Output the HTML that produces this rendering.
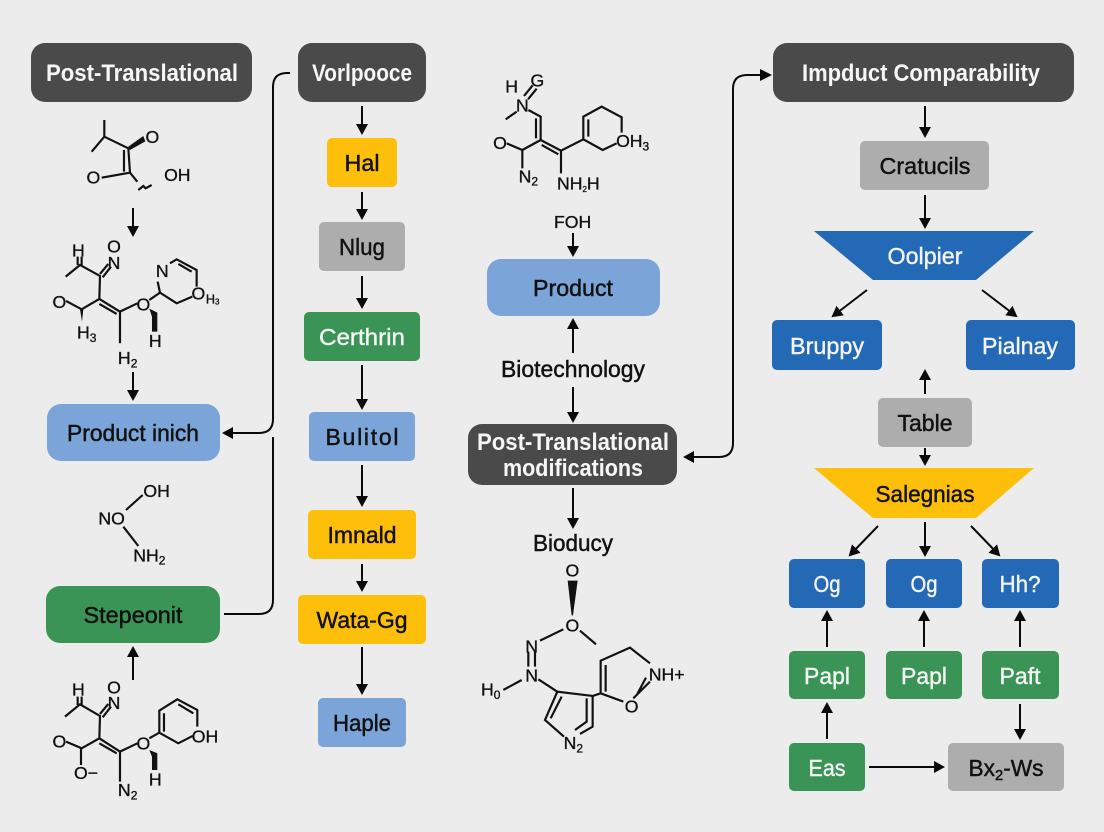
<!DOCTYPE html>
<html>
<head>
<meta charset="utf-8">
<style>
html,body{margin:0;padding:0;background:#ececec}
svg{display:block}
text{font-family:"Liberation Sans",sans-serif}
.l{font-size:23px;text-anchor:middle;fill:#111;stroke:#111;stroke-width:.45px}
.w{font-size:23px;text-anchor:middle;fill:#f4f4f4;stroke:#f4f4f4;stroke-width:.4px}
.h{font-size:24px;text-anchor:middle;fill:#f6f6f6;font-weight:bold}
.a{fill:none;stroke:#0a0a0a;stroke-width:2}
.m path.b{fill:none;stroke:#111;stroke-width:6.5}
.m path.f{fill:#111;stroke:none}
.m text{font-size:53px;fill:#111;text-anchor:middle;stroke:#111;stroke-width:1px}
.m tspan.s{font-size:36px}
</style>
</head>
<body>
<svg width="1104" height="832" viewBox="0 0 1104 832" xmlns="http://www.w3.org/2000/svg">
<defs>
<marker id="t" markerUnits="userSpaceOnUse" markerWidth="12" markerHeight="12" refX="9" refY="6" orient="auto"><path d="M0,0 L11,6 L0,12 z" fill="#0a0a0a"/></marker>
</defs>
<rect width="1104" height="832" fill="#ececec"/>

<!-- Boxes left and second column -->
<rect x="31" y="43" width="221" height="59" rx="14" fill="#4a4a4a"/>
<text class="h" x="142" y="81" textLength="192" lengthAdjust="spacingAndGlyphs">Post-Translational</text>
<rect x="298" y="43" width="128" height="59" rx="14" fill="#4a4a4a"/>
<text class="h" x="362" y="81" textLength="100" lengthAdjust="spacingAndGlyphs">Vorlpooce</text>
<rect x="47" y="404" width="173" height="57" rx="14" fill="#7ba4d8"/>
<text class="l" x="133" y="441" textLength="132" lengthAdjust="spacingAndGlyphs">Product inich</text>
<rect x="46" y="586" width="174" height="57" rx="14" fill="#3a9455"/>
<text class="l" x="133" y="623" textLength="99" lengthAdjust="spacingAndGlyphs">Stepeonit</text>

<rect x="327" y="138" width="70" height="49" rx="5" fill="#fdbf0a"/>
<text class="l" x="362" y="171" textLength="35" lengthAdjust="spacingAndGlyphs">Hal</text>
<rect x="319" y="222" width="86" height="49" rx="5" fill="#adadad"/>
<text class="l" x="362" y="255" textLength="46" lengthAdjust="spacingAndGlyphs">Nlug</text>
<rect x="304" y="312" width="116" height="49" rx="5" fill="#3a9455"/>
<text class="w" x="362" y="345" textLength="86" lengthAdjust="spacingAndGlyphs">Certhrin</text>
<rect x="309" y="412" width="106" height="49" rx="5" fill="#7ba4d8"/>
<text class="l" x="362" y="445" textLength="73" lengthAdjust="spacing">Bulitol</text>
<rect x="308" y="510" width="108" height="49" rx="5" fill="#fdbf0a"/>
<text class="l" x="362" y="543" textLength="69" lengthAdjust="spacingAndGlyphs">Imnald</text>
<rect x="298" y="595" width="128" height="49" rx="5" fill="#fdbf0a"/>
<text class="l" x="362" y="628" textLength="91" lengthAdjust="spacingAndGlyphs">Wata-Gg</text>
<rect x="318" y="698" width="88" height="49" rx="5" fill="#7ba4d8"/>
<text class="l" x="362" y="731" textLength="58" lengthAdjust="spacingAndGlyphs">Haple</text>

<!-- Center -->
<rect x="487" y="259" width="173" height="57" rx="14" fill="#7ba4d8"/>
<text class="l" x="573" y="296" textLength="80" lengthAdjust="spacingAndGlyphs">Product</text>
<text class="l" x="573" y="377" textLength="144" lengthAdjust="spacingAndGlyphs">Biotechnology</text>
<rect x="468" y="424" width="209" height="61" rx="14" fill="#4a4a4a"/>
<text class="h" x="573" y="450" textLength="192" lengthAdjust="spacingAndGlyphs">Post-Translational</text>
<text class="h" x="573" y="476" textLength="140" lengthAdjust="spacingAndGlyphs">modifications</text>
<text class="l" x="573" y="551" textLength="80" lengthAdjust="spacingAndGlyphs">Bioducy</text>

<!-- Right -->
<rect x="773" y="43" width="301" height="59" rx="14" fill="#4a4a4a"/>
<text class="h" x="921" y="81" textLength="238" lengthAdjust="spacingAndGlyphs">Impduct Comparability</text>
<rect x="860" y="141" width="129" height="49" rx="5" fill="#adadad"/>
<text class="l" x="925" y="174" textLength="91" lengthAdjust="spacingAndGlyphs">Cratucils</text>
<polygon points="814,231 1034,231 976,280 873,280" fill="#2369b5"/>
<text class="w" x="925" y="264" textLength="75" lengthAdjust="spacingAndGlyphs">Oolpier</text>
<rect x="772" y="320" width="110" height="50" rx="5" fill="#2369b5"/>
<text class="w" x="827" y="354" textLength="74" lengthAdjust="spacingAndGlyphs">Bruppy</text>
<rect x="966" y="320" width="109" height="50" rx="5" fill="#2369b5"/>
<text class="w" x="1020" y="354" textLength="76" lengthAdjust="spacingAndGlyphs">Pialnay</text>
<rect x="878" y="398" width="94" height="49" rx="5" fill="#adadad"/>
<text class="l" x="925" y="431" textLength="55" lengthAdjust="spacingAndGlyphs">Table</text>
<polygon points="814,468 1034,468 976,518 873,518" fill="#fdbf0a"/>
<text class="l" x="925" y="502" textLength="99" lengthAdjust="spacingAndGlyphs">Salegnias</text>
<rect x="789" y="559" width="76" height="49" rx="5" fill="#2369b5"/>
<text class="w" x="827" y="592" textLength="27" lengthAdjust="spacingAndGlyphs">Og</text>
<rect x="886" y="559" width="76" height="49" rx="5" fill="#2369b5"/>
<text class="w" x="924" y="592" textLength="27" lengthAdjust="spacingAndGlyphs">Og</text>
<rect x="982" y="559" width="77" height="49" rx="5" fill="#2369b5"/>
<text class="w" x="1020" y="592" textLength="41" lengthAdjust="spacingAndGlyphs">Hh?</text>
<rect x="789" y="651" width="76" height="48" rx="5" fill="#3a9455"/>
<text class="w" x="827" y="684" textLength="46" lengthAdjust="spacingAndGlyphs">Papl</text>
<rect x="886" y="651" width="76" height="48" rx="5" fill="#3a9455"/>
<text class="w" x="924" y="684" textLength="46" lengthAdjust="spacingAndGlyphs">Papl</text>
<rect x="982" y="651" width="77" height="48" rx="5" fill="#3a9455"/>
<text class="w" x="1020" y="684" textLength="41" lengthAdjust="spacingAndGlyphs">Paft</text>
<rect x="789" y="743" width="76" height="48" rx="5" fill="#3a9455"/>
<text class="w" x="827" y="776" textLength="37" lengthAdjust="spacingAndGlyphs">Eas</text>
<rect x="948" y="743" width="116" height="48" rx="5" fill="#adadad"/>
<text class="l" x="1006" y="776" textLength="75" lengthAdjust="spacingAndGlyphs">Bx<tspan font-size="15" dy="4">2</tspan><tspan dy="-4">-Ws</tspan></text>

<!-- Arrows -->
<g>
<path class="a" marker-end="url(#t)" d="M133,208V235"/>
<path class="a" marker-end="url(#t)" d="M133,372V399"/>
<path class="a" marker-end="url(#t)" d="M133,680V648"/>
<path class="a" marker-end="url(#t)" d="M362,106V133"/>
<path class="a" marker-end="url(#t)" d="M362,192V218"/>
<path class="a" marker-end="url(#t)" d="M362,276V307"/>
<path class="a" marker-end="url(#t)" d="M362,365V408"/>
<path class="a" marker-end="url(#t)" d="M362,465V505"/>
<path class="a" marker-end="url(#t)" d="M362,564V590"/>
<path class="a" marker-end="url(#t)" d="M362,647V693"/>
<path class="a" marker-end="url(#t)" d="M290,73H287Q273,73 273,87V419Q273,433 259,433H224"/>
<path class="a" d="M273,437V600Q273,614 259,614H224"/>
<path class="a" marker-end="url(#t)" d="M573,233V255"/>
<path class="a" marker-end="url(#t)" d="M573,353V320"/>
<path class="a" marker-end="url(#t)" d="M573,387V421"/>
<path class="a" marker-end="url(#t)" d="M573,488V527"/>
<path class="a" marker-end="url(#t)" d="M763,75H747Q733,75 733,89V443Q733,457 719,457H685"/>
<polygon points="760,69 772,75 760,81" fill="#0a0a0a"/>
<path class="a" marker-end="url(#t)" d="M925,106V136"/>
<path class="a" marker-end="url(#t)" d="M925,195V227"/>
<path class="a" marker-end="url(#t)" d="M867,290L833,316"/>
<path class="a" marker-end="url(#t)" d="M982,290L1016,316"/>
<path class="a" marker-end="url(#t)" d="M925,394V371"/>
<path class="a" marker-end="url(#t)" d="M925,448V464"/>
<path class="a" marker-end="url(#t)" d="M878,526L850,555"/>
<path class="a" marker-end="url(#t)" d="M925,522V555"/>
<path class="a" marker-end="url(#t)" d="M971,526L999,555"/>
<path class="a" marker-end="url(#t)" d="M827,647V612"/>
<path class="a" marker-end="url(#t)" d="M924,647V612"/>
<path class="a" marker-end="url(#t)" d="M1020,647V612"/>
<path class="a" marker-end="url(#t)" d="M827,739V704"/>
<path class="a" marker-end="url(#t)" d="M1020,704V738"/>
<path class="a" marker-end="url(#t)" d="M869,767H943"/>
</g>

<!-- Molecules 1, 2 -->
<g class="m" transform="translate(0,100) scale(.3333)">
<path class="b" d="M313,60V110M275,155L313,110L385,145L390,218M372,150L372,215M305,233L390,218L412,245M415,270L430,258L437,265L455,255"/>
<path class="f" d="M385,140L430,108L436,124L390,150z"/>
<text x="457" y="129">O</text><text x="280" y="251">O</text><text x="532" y="243">OH</text>
<path class="b" d="M233,470V495M245,470V495M197,530L240,495L300,528L298,597L245,628L198,603M300,522L325,492M308,532L333,500M298,597L360,635L360,730M298,612L350,642M360,635L412,610M448,600L480,578L473,545M510,490L530,478L590,510V560M535,492L575,515M480,578L530,610L577,590"/>
<path class="f" d="M240,628L250,628L246,665zM448,626L472,638V695H456V650z"/>
<text x="235" y="469">H</text><text x="342" y="458">O</text><text x="342" y="507">N</text><text x="178" y="624">O</text>
<text x="260" y="716">H<tspan class="s" dy="10">3</tspan></text>
<text x="430" y="631">O</text><text x="466" y="741">H</text><text x="487" y="531">N</text>
<text x="595" y="599">O</text><text x="638" y="610" style="font-size:38px">H<tspan class="s" style="font-size:24px" dy="4">3</tspan></text>
<text x="383" y="792">H<tspan class="s" dy="10">2</tspan></text>
</g>
<g class="m" transform="translate(0,460) scale(.3333)">
<path class="b" d="M378,150L428,105M370,200L415,258"/>
<text x="335" y="194">NO</text><text x="470" y="111">OH</text><text x="448" y="304">NH<tspan class="s" dy="10">2</tspan></text>
<path class="b" d="M233,710V735M245,710V735M195,770L240,733L300,768L298,835L245,865L198,845M300,762L325,732M308,772L333,740M243,865V915M298,835L360,875V965M298,850L350,880M360,875L412,850M448,835L478,818V752L532,718L592,750V800M492,815V760M535,733L580,760M478,818L535,850L578,828"/>
<path class="f" d="M448,870L472,880V930H456V890z"/>
<text x="235" y="707">H</text><text x="342" y="700">O</text><text x="342" y="747">N</text><text x="178" y="862">O</text>
<text x="258" y="957">O−</text><text x="383" y="1008">N<tspan class="s" dy="10">2</tspan></text>
<text x="430" y="869">O</text><text x="466" y="977">H</text><text x="615" y="847">OH</text>
</g>

<!-- Molecule 3 -->
<g class="m" transform="translate(460,60) scale(.3333)">
<path class="b" d="M137,178L170,155M192,108L218,76M204,118L230,86M205,150L242,170V240M228,175V235M242,240L187,270L140,250M187,270V325M242,240L303,272V340M245,255L295,283M303,272L370,238V170L425,140L485,172V218M385,230V178M370,238L428,270L470,250"/>
<text x="155" y="97">H</text><text x="232" y="79">G</text><text x="187" y="154">N</text>
<text x="120" y="267">O</text><text x="205" y="367">N<tspan class="s" dy="10">2</tspan></text>
<text x="355" y="388">NH<tspan class="s" dy="8" style="font-size:24px">2</tspan><tspan dy="-8">H</tspan></text>
<text x="518" y="261">OH<tspan class="s" dy="10">3</tspan></text>
<text x="338" y="504">FOH</text>
</g>

<!-- Molecule 4 -->
<g class="m" transform="translate(460,550) scale(.3333)">
<path class="f" d="M323,92H353L339,196H335z"/>
<path class="b" d="M310,238L240,272M205,305V350M225,305V350M185,390L130,420M235,388L292,425L398,438V530L360,552M360,242L408,283M292,425L255,510L312,560M305,440L272,505M380,445V515L345,540M398,438L422,430L490,455M422,430V332L510,293L570,340M437,425V345M570,395L520,445M558,383L532,432"/>
<text x="337" y="79">O</text><text x="337" y="244">O</text><text x="215" y="307">N</text><text x="215" y="394">N</text>
<text x="92" y="437">H<tspan class="s" dy="10">0</tspan></text>
<text x="620" y="391">NH+</text><text x="515" y="487">O</text>
<text x="340" y="597">N<tspan class="s" dy="10">2</tspan></text>
</g>
</svg>
</body>
</html>
